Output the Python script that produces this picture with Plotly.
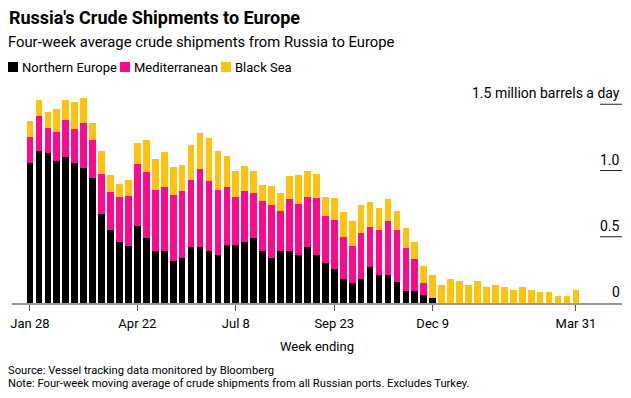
import plotly.graph_objects as go
import pandas as pd

# ---- data ----
week_start = "2022-01-28"
n_weeks = 62
weeks = pd.date_range(week_start, periods=n_weeks, freq="7D")

northern_europe = [1.06, 1.15, 1.13, 1.07, 1.10, 1.06, 1.02, 0.94, 0.67, 0.55,
                   0.46, 0.43, 0.58, 0.49, 0.39, 0.39, 0.32, 0.34, 0.42, 0.42,
                   0.39, 0.36, 0.44, 0.44, 0.46, 0.49, 0.39, 0.34, 0.39, 0.39,
                   0.36, 0.42, 0.36, 0.30, 0.26, 0.18, 0.15, 0.18, 0.27, 0.21,
                   0.21, 0.16, 0.09, 0.09, 0.06, 0.04,
                   0, 0, 0, 0, 0, 0, 0, 0, 0, 0, 0, 0, 0, 0, 0, 0]
mediterranean = [0.195, 0.264, 0.189, 0.218, 0.279, 0.256, 0.339, 0.294, 0.302, 0.286,
                 0.339, 0.377, 0.467, 0.498, 0.460, 0.482, 0.497, 0.505, 0.512, 0.588,
                 0.528, 0.490, 0.437, 0.361, 0.384, 0.339, 0.377, 0.399, 0.302, 0.392,
                 0.385, 0.377, 0.429, 0.354, 0.369, 0.317, 0.279, 0.346, 0.302, 0.339,
                 0.407, 0.392, 0.324, 0.241, 0.090, 0.0,
                 0, 0, 0, 0, 0, 0, 0, 0, 0, 0, 0, 0, 0, 0, 0, 0]
black_sea = [0.121, 0.118, 0.120, 0.178, 0.156, 0.201, 0.186, 0.121, 0.173, 0.128,
             0.098, 0.120, 0.159, 0.241, 0.238, 0.271, 0.211, 0.195, 0.264, 0.272,
             0.324, 0.294, 0.233, 0.196, 0.188, 0.166, 0.120, 0.143, 0.135, 0.174,
             0.218, 0.196, 0.186, 0.143, 0.166, 0.188, 0.188, 0.211, 0.188, 0.166,
             0.166, 0.143, 0.151, 0.128, 0.128, 0.175,
             0.138, 0.181, 0.163, 0.138, 0.163, 0.121, 0.138, 0.121, 0.095, 0.121,
             0.095, 0.080, 0.080, 0.053, 0.053, 0.098]

series_names = ["Northern Europe", "Mediterranean", "Black Sea"]
series_colors = ["#000000", "#ff0a8f", "#ffc20e"]

x_tick_vals = ["2022-01-28", "2022-04-22", "2022-07-08", "2022-09-23", "2022-12-09", "2023-03-31"]
x_tick_text = ["Jan 28", "Apr 22", "Jul 8", "Sep 23", "Dec 9", "Mar 31"]
y_tick_vals = [0, 0.5, 1.0, 1.5]
y_tick_text = ["0", "0.5", "1.0", "1.5 million barrels a day"]

FONT = "Roboto"

fig = go.Figure()
for name, vals, col in zip(series_names, [northern_europe, mediterranean, black_sea], series_colors):
    fig.add_trace(go.Bar(x=weeks, y=vals, name=name, marker_color=col,
                         marker_line_width=0, showlegend=False))

x0 = pd.Timestamp(week_start) - pd.Timedelta(days=2.01 * 7)
x1 = pd.Timestamp(week_start) + pd.Timedelta(days=66.15 * 7)

fig.update_layout(
    width=631, height=398,
    margin=dict(l=12, r=9, t=91, b=95, autoexpand=False),
    barmode="stack", bargap=0.25,
    plot_bgcolor="white", paper_bgcolor="white",
    font=dict(family=FONT, color="#000", size=13),
    xaxis=dict(type="date", range=[x0, x1], tickvals=x_tick_vals, ticktext=x_tick_text,
               ticks="outside", ticklen=6, tickcolor="#555", tickwidth=1,
               showline=True, linecolor="#999", linewidth=1.5, showgrid=False,
               tickfont=dict(size=13), ticklabelstandoff=2, layer="below traces",
               automargin=False,
               title=dict(text="Week ending", font=dict(size=13), standoff=12)),
    yaxis=dict(range=[0, 1.6], showticklabels=False, ticks="", showgrid=False,
               zeroline=False, showline=False, automargin=False),
)

for v, t in zip(y_tick_vals, y_tick_text):
    if v > 0:
        fig.add_shape(type="line", xref="paper", yref="y", x0=0.964, x1=1, y0=v, y1=v,
                      line=dict(color="#222", width=1))
    fig.add_annotation(text=t, xref="paper", yref="y", x=1, y=v, xanchor="right",
                       yanchor="middle", yshift=11, showarrow=False,
                       font=dict(size=14, family=FONT, color="#000"))

ann = [
    dict(text="<b>Russia's Crude Shipments to Europe</b>", x=7, y=17, size=18),
    dict(text="Four-week average crude shipments from Russia to Europe", x=6, y=42, size=14.8),
    dict(text="Source: Vessel tracking data monitored by Bloomberg", x=6, y=370, size=11.2),
    dict(text="Note: Four-week moving average of crude shipments from all Russian ports. Excludes Turkey.",
         x=6, y=383, size=11.2),
]
for a in ann:
    fig.add_annotation(text=a["text"], xref="paper", yref="paper",
                       x=(a["x"] - 12) / 610, y=(303 - a["y"]) / 212,
                       xanchor="left", yanchor="middle", showarrow=False,
                       font=dict(size=a["size"], family=FONT, color="#000"))

# legend as annotations
leg_x = [8, 120, 221]
for lx, name, col in zip(leg_x, series_names, series_colors):
    fig.add_shape(type="rect", xref="paper", yref="paper",
                  x0=(lx - 12) / 610, x1=(lx + 10 - 12) / 610,
                  y0=(303 - 72) / 212, y1=(303 - 62) / 212,
                  fillcolor=col, line_width=0)
    fig.add_annotation(text=name, xref="paper", yref="paper",
                       x=(lx + 12 - 12) / 610, y=(303 - 67) / 212,
                       xanchor="left", yanchor="middle", showarrow=False,
                       font=dict(size=13, family=FONT, color="#000"))

fig.write_html("out.html", config={"displayModeBar": False},
               post_script="document.body.style.margin='0';")
